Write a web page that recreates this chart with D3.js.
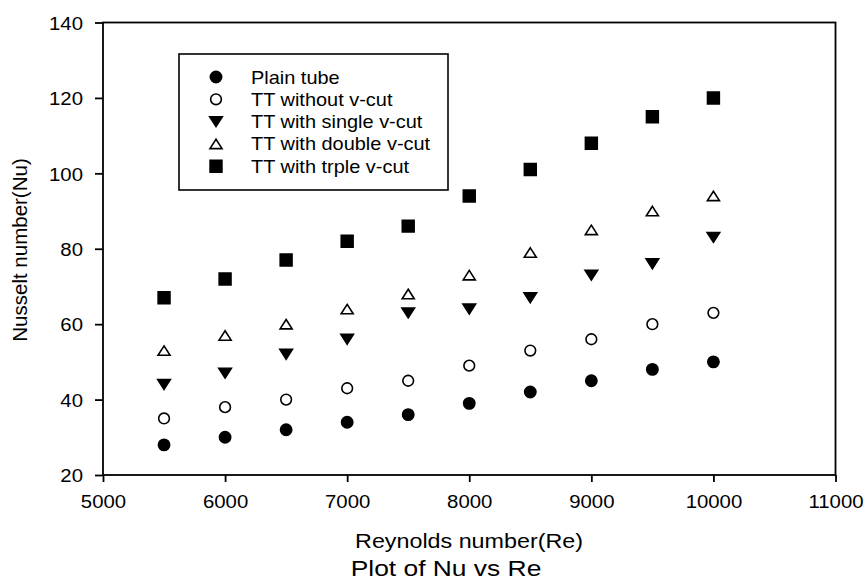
<!DOCTYPE html>
<html>
<head>
<meta charset="utf-8">
<script src="https://cdn.jsdelivr.net/npm/d3@7"></script>
<style>
  body { margin: 0; background: #fff; }
  text { font-family: "Liberation Sans", Arial, sans-serif; fill: #000; }
</style>
</head>
<body>
<svg id="chart" width="865" height="582"></svg>
<script>
// data
var reynolds = [5500, 6000, 6500, 7000, 7500, 8000, 8500, 9000, 9500, 10000]
var plainTube = [28, 30, 32, 34, 36, 39, 42, 45, 48, 50]
var ttWithout = [35, 38, 40, 43, 45, 49, 53, 56, 60, 63]
var ttSingle = [44, 47, 52, 56, 63, 64, 67, 73, 76, 83]
var ttDouble = [53, 57, 60, 64, 68, 73, 79, 85, 90, 94]
var ttTriple = [67, 72, 77, 82, 86, 94, 101, 108, 115, 120]
var seriesNames = ['Plain tube', 'TT without v-cut', 'TT with single v-cut', 'TT with double v-cut', 'TT with trple v-cut']
var xTicks = [5000, 6000, 7000, 8000, 9000, 10000, 11000]
var yTicks = [20, 40, 60, 80, 100, 120, 140]

var svg = d3.select('#chart')
var stretch = 1.1   // source picture is a bit wider than tall

var x = d3.scaleLinear().domain([5000, 11000]).range([103, 835.5])
var y = d3.scaleLinear().domain([20, 140]).range([475, 22.5])

// custom triangle so it can be a little wider than tall
function tri(up) {
    return {
        draw: function (ctx, size) {
            var w = Math.sqrt(size) * 1.15, h = w * 0.78
            var s = up ? 1 : -1
            ctx.moveTo(0, -s * h / 2)
            ctx.lineTo(w / 2, s * h / 2)
            ctx.lineTo(-w / 2, s * h / 2)
            ctx.closePath()
        }
    }
}
var styles = [
    { type: d3.symbolCircle, size: 100, fill: '#000' },
    { type: d3.symbolCircle, size: 90, fill: '#fff' },
    { type: tri(false), size: 120, fill: '#000' },
    { type: tri(true), size: 110, fill: '#fff' },
    { type: d3.symbolSquare, size: 140, fill: '#000' }
]
var seriesData = [plainTube, ttWithout, ttSingle, ttDouble, ttTriple]

function label(g, tx, ty, str, size, sx, anchor) {
    return g.append('text')
        .attr('transform', 'translate(' + tx + ',' + ty + ') scale(' + sx + ',1)')
        .attr('text-anchor', anchor)
        .style('font-size', size + 'px')
        .text(str)
}

// frame
svg.append('rect')
    .attr('x', x(5000)).attr('y', y(140))
    .attr('width', x(11000) - x(5000)).attr('height', y(20) - y(140))
    .attr('fill', 'none').attr('stroke', '#000').attr('stroke-width', 1.8)

var xAxis = svg.append('g')
    .attr('transform', 'translate(0,' + y(20) + ')')
    .call(d3.axisBottom(x).tickValues(xTicks).tickSize(7).tickFormat(d3.format('d')))
var yAxis = svg.append('g')
    .attr('transform', 'translate(' + x(5000) + ',0)')
    .call(d3.axisLeft(y).tickValues(yTicks).tickSize(8).tickFormat(d3.format('d')))

svg.selectAll('.domain').remove()
svg.selectAll('.tick line').attr('stroke', '#000').attr('stroke-width', 1.8)
xAxis.selectAll('text')
    .attr('y', 20).attr('dy', '0.71em')
    .attr('transform', 'scale(' + stretch + ',1)')
    .style('font-size', '18.5px')
yAxis.selectAll('text')
    .attr('x', -20 / stretch).attr('dy', '0.36em')
    .attr('transform', 'scale(' + stretch + ',1)')
    .style('font-size', '18.5px')

// points
seriesData.forEach(function (vals, i) {
    var st = styles[i]
    svg.append('g').selectAll('path')
        .data(vals)
        .enter().append('path')
        .attr('d', d3.symbol().type(st.type).size(st.size))
        .attr('transform', function (d, j) { return 'translate(' + x(reynolds[j]) + ',' + y(d) + ')' })
        .attr('fill', st.fill)
        .attr('stroke', '#000')
        .attr('stroke-width', 1.6)
})

// legend
var leg = svg.append('g')
leg.append('rect')
    .attr('x', 179).attr('y', 54).attr('width', 269).attr('height', 136)
    .attr('fill', '#fff').attr('stroke', '#000').attr('stroke-width', 1.6)
seriesNames.forEach(function (name, i) {
    var st = styles[i]
    var cy = 77 + i * 22.3
    leg.append('path')
        .attr('d', d3.symbol().type(st.type).size(st.size))
        .attr('transform', 'translate(216,' + cy + ')')
        .attr('fill', st.fill).attr('stroke', '#000').attr('stroke-width', 1.6)
    label(leg, 251, cy + 6.5, name, 17.5, 1.14, 'start')
})

// titles
label(svg, 469, 548, 'Reynolds number(Re)', 21, 1.11, 'middle')
svg.append('text')
    .attr('transform', 'translate(27,250) rotate(-90)')
    .attr('text-anchor', 'middle')
    .style('font-size', '20.5px')
    .text('Nusselt number(Nu)')
label(svg, 446, 576, 'Plot of Nu vs Re', 22, 1.2, 'middle')
</script>
</body>
</html>
